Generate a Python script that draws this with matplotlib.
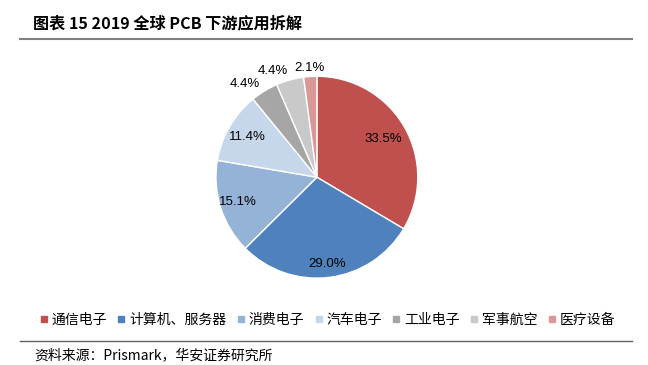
import numpy as np
import matplotlib
matplotlib.use('Agg')
import matplotlib.pyplot as plt
from matplotlib.lines import Line2D

plt.rcParams['font.family'] = ['Noto Sans CJK SC', 'DejaVu Sans']

# data
categories = ['通信电子', '计算机、服务器', '消费电子', '汽车电子', '工业电子', '军事航空', '医疗设备']
shares = [33.5, 29.0, 15.1, 11.4, 4.4, 4.4, 2.1]
colors = ['#C0504D', '#4F81BD', '#95B3D7', '#C6D7EC', '#A6A6A6', '#C9C9C9', '#D99795']
label_r = [0.76, 0.87, 0.82, 0.8, 1.08, 1.09, 1.08]
label_ha = ['center', 'center', 'center', 'center', 'right', 'right', 'center']

fig = plt.figure(figsize=(6.48, 3.65), dpi=100)

fig.text(0.051, 0.937, '图表 15 2019 全球 PCB 下游应用拆解', fontsize=11.6, fontweight='bold',
         va='center', ha='left')
fig.add_artist(Line2D([0.031, 0.976], [0.892, 0.892], color='#808080', lw=1.5))
fig.add_artist(Line2D([0.031, 0.976], [0.066, 0.066], color='#606060', lw=1.0))
fig.text(0.053, 0.027, '资料来源：Prismark，华安证券研究所', fontsize=10, va='center', ha='left')

ax = fig.add_axes([0.333, 0.238, 0.312, 0.553])
wedges, _ = ax.pie(shares, colors=colors, startangle=90, counterclock=False,
                   wedgeprops=dict(edgecolor='white', linewidth=1))
ax.set_aspect('equal')
ax.set_xlim(-1, 1)
ax.set_ylim(-1, 1)

for w, v, r, ha in zip(wedges, shares, label_r, label_ha):
    ang = np.deg2rad((w.theta1 + w.theta2) / 2)
    ax.text(r * np.cos(ang), r * np.sin(ang), f'{v:.1f}%', ha=ha, va='center',
            fontsize=9.5, family=['Liberation Sans', 'DejaVu Sans'], clip_on=False)

handles = [Line2D([], [], marker='s', color=c, linestyle='none', markersize=4.5) for c in colors]
fig.legend(handles, categories, loc='center', bbox_to_anchor=(0.505, 0.123), ncol=7,
           frameon=False, fontsize=10, handlelength=0.6, handletextpad=0.25,
           columnspacing=0.75)

fig.savefig('out.png', dpi=100)
